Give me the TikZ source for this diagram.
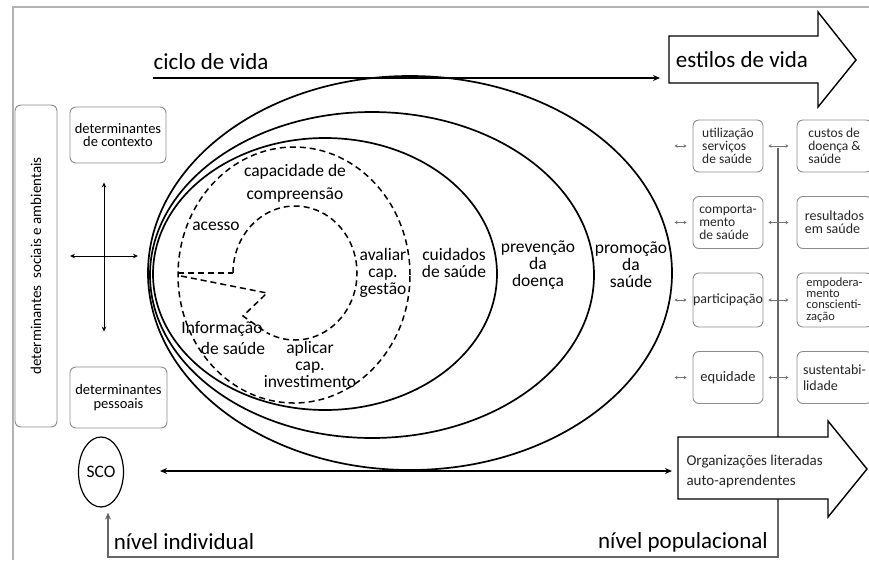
\documentclass[tikz,border=0pt]{standalone}
\usepackage{fontspec}
\setmainfont{Carlito}
\usetikzlibrary{arrows.meta,positioning,shapes.geometric}

\begin{document}
\begin{tikzpicture}[x=1pt,y=1pt,>={Stealth[length=7pt,width=6pt]}]
\tikzset{
  ring/.style={line width=1.7pt},
  dash ring/.style={line width=1.5pt,dash pattern=on 6pt off 4pt},
  gbox/.style={rectangle,rounded corners=6pt,draw=black!45,line width=0.9pt,fill=white,inner sep=2pt},
  big label/.style={font=\fontsize{23}{26}\selectfont,inner sep=0pt},
  ring label/.style={font=\fontsize{17.5}{17}\selectfont,align=center,inner sep=0pt},
  box text/.style={font=\fontsize{13.5}{13}\selectfont,align=left,text=black!85},
  tiny arrow/.style={<->,black!55,line width=0.6pt,>={Stealth[length=3pt,width=3.5pt]}},
  cross arrow/.style={<->,line width=1pt,>={Stealth[length=5pt,width=4.5pt]}},
  big arrow/.style={draw,line width=1.4pt,fill=white,line join=miter}
}
\useasboundingbox (0,0) rectangle (869,-560);

% frame
\draw[black!30,line width=1.5pt] (13,-560) -- (13,-7) -- (869,-7);

% left side
\node[gbox,minimum width=322pt,minimum height=42pt,rotate=90,font=\fontsize{15}{15}\selectfont] (socamb) at (36,-266) {determinantes\ \ sociais e ambientais};
\node[gbox,minimum width=96pt,minimum height=56pt,align=center,font=\fontsize{14.5}{13.5}\selectfont] (contexto) at (118,-135) {determinantes\\de contexto};
\node[gbox,minimum width=97pt,minimum height=61pt,align=center,font=\fontsize{14.5}{13.5}\selectfont] (pessoais) at (118.5,-397.5) {determinantes\\pessoais};
\draw[cross arrow] ([xshift=-14pt,yshift=-19pt]contexto.south) -- ([xshift=-14.5pt,yshift=35pt]pessoais.north);
\coordinate (crossL) at (70,-256);
\coordinate (crossR) at (138,-256);
\draw[cross arrow] (crossL) -- (crossR);
\node[draw,ellipse,line width=1.2pt,minimum width=45pt,minimum height=70pt,inner sep=0pt,font=\fontsize{17.5}{17}\selectfont] (SCO) at (101,-472) {SCO};

% rings
\draw[ring] (410,-273) ellipse [x radius=262, y radius=197];
\draw[ring] (372,-275) ellipse [x radius=222, y radius=163];
\draw[ring] (325,-274) ellipse [x radius=172, y radius=136];

% dashed core
\draw[dash ring] (294,-275) ellipse [x radius=116, y radius=128];
\draw[dash ring] (233,-273) arc[start angle=180, end angle=-117, x radius=62, y radius=67];
\draw[dash ring] (178,-273) -- (233,-273);
\draw[dash ring] (181,-276) -- (267,-293) -- (243,-316) -- (267,-333);

\node[ring label] (compreensao) at (295,-183) {capacidade de\\[6pt]compreensão};
\node[ring label] (acesso) at (216,-226) {acesso};
\node[ring label] (avaliar) at (383,-273) {avaliar\\cap.\\gestão};
\node[ring label] (informacao) at (222,-329) {Informação};
\node[ring label] (desaude) at (233,-348) {de saúde};
\node[ring label,text depth=0pt] (aplicar) at (310,-364) {aplicar\\cap.\\investimento};
\node[ring label] (cuidados) at (454,-263) {cuidados\\de saúde};
\node[ring label] (prevencao) at (538,-265) {prevenção\\da\\doença};
\node[ring label] (promocao) at (631,-265) {promoção\\da\\saúde};

% top arrow
\node[big label] (ciclo) at (211,-62) {ciclo de vida};
\coordinate (cicloS) at (153,-78);
\draw[big arrow] (669,-36) -- (818,-36) -- (818,-12) -- (856,-60) -- (818,-107) -- (818,-83) -- (669,-83) -- cycle;
\node[big label] (estilos) at (742,-60) {estilos de vida};
\draw[->,line width=1.6pt] (cicloS) -- (660,-78);

% right columns
\coordinate (bartop) at (778,-148);
\coordinate (barbot) at (778,-557);
\coordinate (barleft) at (108,-557);
\draw[black!60,line width=1.3pt,->,shorten >=5pt] (bartop) -- (barbot) -- (barleft) -- (barleft |- SCO.south);

\node[gbox,box text,minimum width=70pt,minimum height=52pt] (uso) at (728,-146) {utilização\\serviços\\de saúde};
\node[gbox,box text,minimum width=70pt,minimum height=52pt] (comport) at (728,-222.5) {comporta-\\mento\\de saúde};
\node[gbox,box text,minimum width=70pt,minimum height=54pt,inner xsep=0pt,font=\fontsize{14}{13}\selectfont] (partic) at (728,-300) {participação};
\node[gbox,box text,minimum width=70pt,minimum height=52pt,font=\fontsize{14.5}{13}\selectfont] (equid) at (728,-377.5) {equidade};

\node[gbox,box text,minimum width=75pt,minimum height=52pt] (custos) at (834.5,-146) {custos de\\doença \&\\saúde};
\node[gbox,box text,minimum width=75pt,minimum height=52pt,font=\fontsize{14}{13}\selectfont] (result) at (834.5,-222.5) {resultados\\em saúde};
\node[gbox,box text,minimum width=75pt,minimum height=54pt,font=\fontsize{12.5}{11.3}\selectfont] (empod) at (834.5,-300) {empodera-\\mento\\conscienti-\\zação};
\node[gbox,box text,minimum width=75pt,minimum height=52pt,font=\fontsize{14}{16}\selectfont] (sustent) at (834.5,-377.5) {sustentabi-\\lidade};

\foreach \b in {uso,comport,partic,equid}{
  \draw[tiny arrow] ([xshift=-18pt]\b.west) -- ([xshift=-6pt]\b.west);
  \draw[tiny arrow] ([xshift=5pt]\b.east) -- ([xshift=25pt]\b.east);
}

% bottom arrow
\draw[big arrow] (678,-437) -- (828,-437) -- (828,-421) -- (867,-469) -- (828,-517) -- (828,-499) -- (678,-499) -- cycle;
\node[anchor=west,align=left,text=black!85,font=\fontsize{15}{20}\selectfont] (org) at (683,-471) {Organizações literadas\\auto-aprendentes};
\coordinate (popL) at (160,-471);
\draw[<->,line width=1.6pt] (popL) -- ([xshift=-11pt]org.west |- popL);

\node[big label] (individual) at (184,-542) {nível individual};
\node[big label,anchor=east] (populacional) at (768,-542) {nível populacional};
\end{tikzpicture}
\end{document}
